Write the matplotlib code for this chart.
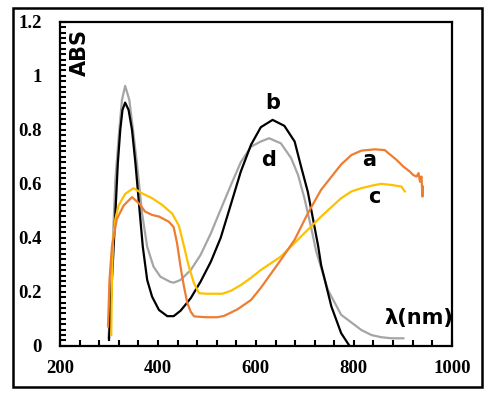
import matplotlib
matplotlib.use('Agg')
import matplotlib.pyplot as plt
from matplotlib.patches import Rectangle
from matplotlib.ticker import MultipleLocator

# curve a (orange)
lamA = [298, 301, 306, 316, 330, 347, 361, 374, 388, 402, 422, 432, 439, 446, 453, 460, 467,
        474, 500, 521, 535, 562, 590, 610, 651, 679, 706, 733, 774, 795, 815, 843, 863, 887,
        901, 914, 921, 928, 932, 935, 938, 940, 941]
absA = [0.072, 0.244, 0.367, 0.47, 0.52, 0.551, 0.528, 0.497, 0.485, 0.479, 0.46, 0.44, 0.38,
        0.294, 0.22, 0.158, 0.126, 0.109, 0.106, 0.106, 0.111, 0.135, 0.17, 0.215, 0.319,
        0.393, 0.491, 0.578, 0.672, 0.707, 0.723, 0.728, 0.725, 0.689, 0.664, 0.646, 0.633,
        0.627, 0.64, 0.608, 0.627, 0.553, 0.59]

# curve b (black)
lamB = [300, 306, 313, 318, 323, 327.5, 333, 340, 347, 354, 363, 369, 378, 388, 402, 419, 432,
        446, 456, 467, 487, 508, 528, 549, 569, 590, 610, 634, 658, 679, 692, 706, 716, 727,
        733, 754, 774, 791]
absB = [0.022, 0.244, 0.49, 0.676, 0.80, 0.874, 0.901, 0.874, 0.80, 0.676, 0.49, 0.367, 0.244,
        0.182, 0.133, 0.11, 0.11, 0.13, 0.152, 0.177, 0.238, 0.312, 0.40, 0.525, 0.645, 0.745,
        0.81, 0.837, 0.815, 0.757, 0.665, 0.57, 0.475, 0.37, 0.30, 0.146, 0.047, 0.0]

# curve c (yellow)
lamC = [304.6, 306, 308.5, 313, 319.6, 333, 350, 367.6, 388, 408.6, 429, 442.7, 453, 463,
        473.5, 484, 500, 531.6, 549, 569, 590, 610, 651, 692, 733, 774, 795, 815, 843, 856,
        877, 897, 904]
absC = [0.04, 0.244, 0.40, 0.47, 0.52, 0.563, 0.584, 0.565, 0.547, 0.522, 0.49, 0.445, 0.37,
        0.294, 0.232, 0.195, 0.193, 0.193, 0.204, 0.225, 0.252, 0.281, 0.331, 0.405, 0.479,
        0.547, 0.572, 0.584, 0.596, 0.60, 0.596, 0.59, 0.572]

# curve d (grey)
lamD = [299, 303, 307, 313, 321, 326.5, 333, 341.5, 349, 357, 367.6, 378, 391, 405, 425, 432,
        446, 467, 487, 508, 528, 549, 569, 590, 610, 627, 651, 672, 686, 699, 713, 723, 747,
        774, 788, 815, 836, 856, 877, 901]
absD = [0.03, 0.15, 0.35, 0.615, 0.80, 0.911, 0.963, 0.911, 0.80, 0.676, 0.49, 0.367, 0.293,
        0.256, 0.237, 0.234, 0.244, 0.281, 0.337, 0.417, 0.505, 0.596, 0.68, 0.738, 0.757,
        0.769, 0.75, 0.695, 0.633, 0.547, 0.436, 0.35, 0.207, 0.115, 0.096, 0.059, 0.04,
        0.032, 0.028, 0.028]

xTicks = [200, 400, 600, 800, 1000]
yTicks = [0, 0.2, 0.4, 0.6, 0.8, 1.0, 1.2]
yTickLabels = ['0', '0.2', '0.4', '0.6', '0.8', '1', '1.2']

fig = plt.figure(figsize=(4.96, 3.98), dpi=100)
ax = fig.add_axes([0.121, 0.131, 0.79, 0.814])

ax.plot(lamD, absD, color='#A5A5A5', lw=1.6)
ax.plot(lamB, absB, color='black', lw=1.6)
ax.plot(lamC, absC, color='#FFC000', lw=1.6)
ax.plot(lamA, absA, color='#ED7D31', lw=1.6)

ax.set_xlim(200, 1000)
ax.set_ylim(0, 1.2)
ax.set_xticks(xTicks)
ax.set_yticks(yTicks)
ax.set_yticklabels(yTickLabels)
ax.xaxis.set_minor_locator(MultipleLocator(40))
ax.yaxis.set_minor_locator(MultipleLocator(0.02))
ax.tick_params(which='both', direction='in', length=4, width=1.5)
ax.tick_params(axis='y', pad=13)
ax.tick_params(axis='x', pad=10)
for lab in ax.get_xticklabels() + ax.get_yticklabels():
    lab.set_fontfamily('Liberation Serif')
    lab.set_fontweight('bold')
    lab.set_fontsize(13.5)
for sp in ax.spines.values():
    sp.set_linewidth(1.6)

txt = dict(fontfamily='DejaVu Sans', fontweight='bold', ha='center', va='center')
ax.text(241, 1.085, 'ABS', rotation=90, fontsize=15, **txt)
ax.text(932, 0.104, 'λ(nm)', fontsize=15, **txt)
ax.text(832, 0.689, 'a', fontsize=15, **txt)
ax.text(635, 0.9, 'b', fontsize=15, **txt)
ax.text(841, 0.553, 'c', fontsize=15, **txt)
ax.text(626, 0.689, 'd', fontsize=15, **txt)

fig.patches.append(Rectangle((13 / 496, 1 - 387 / 398), 469 / 496, 379 / 398,
                             transform=fig.transFigure, fill=False, lw=1.8, ec='black'))

fig.savefig('out.png', dpi=100)
